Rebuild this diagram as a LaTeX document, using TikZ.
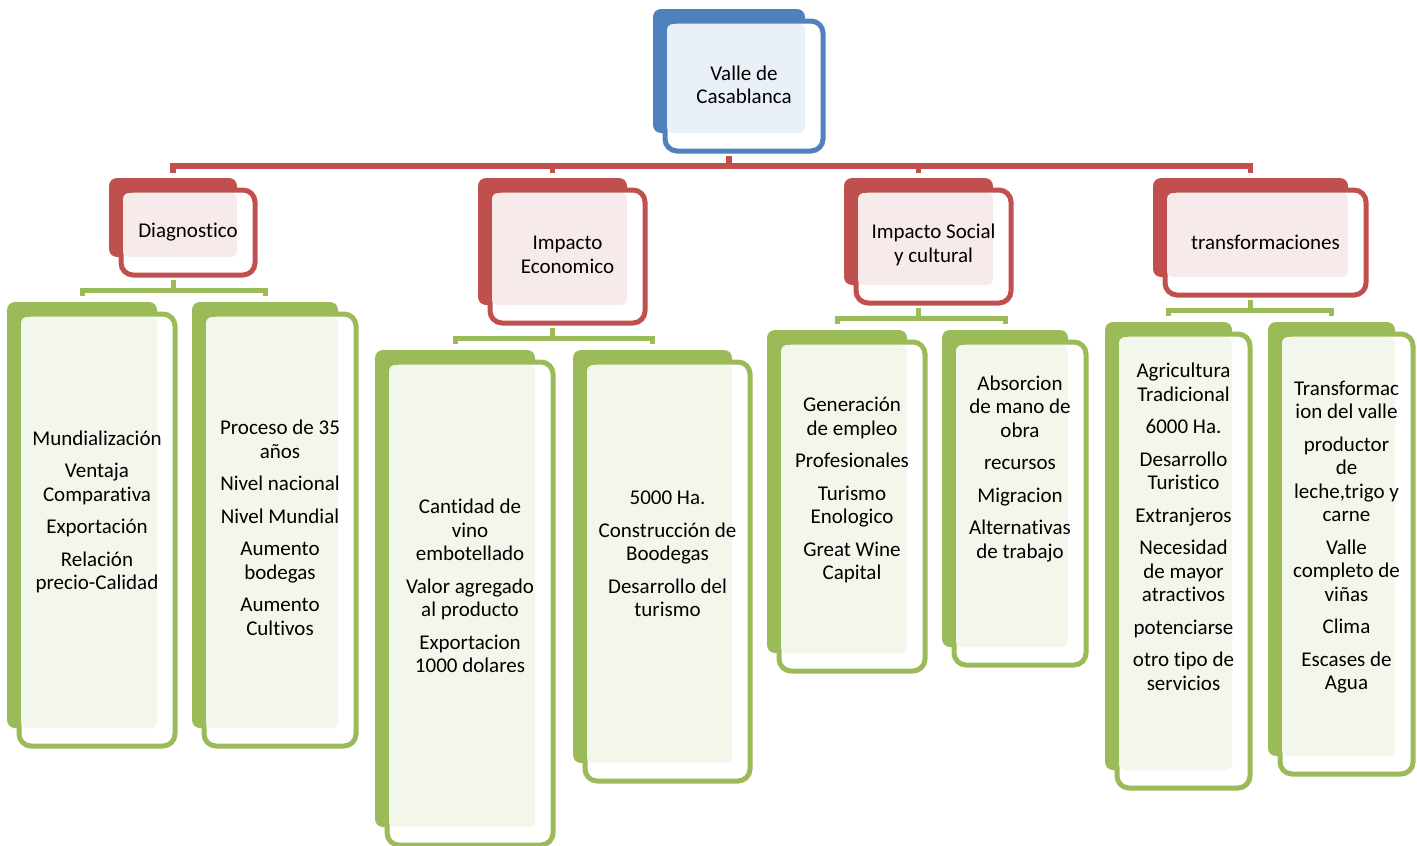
\documentclass[tikz,border=0pt]{standalone}
\usepackage{fontspec}
\setmainfont{Carlito}[Ligatures=NoCommon]
\definecolor{valleblue}{HTML}{4F81BD}
\definecolor{vallered}{HTML}{C0504D}
\definecolor{vallegreen}{HTML}{9BBB59}

% back card, framed front card, pale text area and text
% #1 name, #2-#5 back card corners, #6 colour, #7 text, #8 text height
\newcommand{\cardbox}[8]{%
  \node[backcard, fill=#6, minimum width={(#4-#2)*1pt}, minimum height={(#5-#3)*1pt}]
    (#1-back) at ({(#2+#4)/2},{(#3+#5)/2}) {};
  \node[frontcard, draw=#6, minimum width={(#4-#2+6)*1pt}, minimum height={(#5-#3+6)*1pt}]
    (#1) at ({(#2+#4)/2+15},{(#3+#5)/2+15}) {};
  \fill[#6!12, rounded corners=6pt] (#2+14,#3+15) rectangle (#4,#5);
  \node[cardtext] (#1-text) at ({(#2+#4)/2+15},#8) {#7};
}

\begin{document}
\begin{tikzpicture}[x=1pt, y=-1pt,
    backcard/.style={rectangle, draw=none, rounded corners=8pt, inner sep=0pt},
    frontcard/.style={rectangle, line width=5pt, fill=white, rounded corners=12pt, inner sep=0pt},
    cardtext/.style={align=center, inner sep=0pt, font=\fontsize{21}{23.5}\selectfont},
    redlink/.style={draw=vallered, line width=5.5pt, shorten <=2pt, shorten >=5pt},
    greenlink/.style={draw=vallegreen, line width=5pt, shorten <=2pt, shorten >=6pt}]
  \useasboundingbox (0,0) rectangle (1417,846);

  % Root
  \cardbox{valle}{653}{9}{805}{133}{valleblue}{Valle de\\Casablanca}{85}

  % Topics
  \cardbox{diag}{109}{178}{237}{257}{vallered}{Diagnostico}{232}
  \cardbox{econ}{478}{178}{627}{305}{vallered}{Impacto\\Economico}{255}
  \cardbox{social}{844}{178}{993}{285}{vallered}{Impacto Social\\y cultural}{245}
  \cardbox{transf}{1153}{178}{1348}{277}{vallered}{transformaciones}{242}

  % Details
  \cardbox{mundo}{7}{302}{157}{728}{vallegreen}
    {Mundialización\\[9pt]Ventaja\\Comparativa\\[9pt]Exportación\\[9pt]Relación\\precio-Calidad}{512}
  \cardbox{proceso}{192}{302}{338}{728}{vallegreen}
    {Proceso de 35\\años\\[9pt]Nivel nacional\\[9pt]Nivel Mundial\\[9pt]Aumento\\bodegas\\[9pt]Aumento\\Cultivos}{528}
  \cardbox{vino}{375}{350}{535}{827}{vallegreen}
    {Cantidad de\\vino\\embotellado\\[9pt]Valor agregado\\al producto\\[9pt]Exportacion\\1000 dolares}{586}
  \cardbox{bodega}{573}{350}{732}{763}{vallegreen}
    {5000 Ha.\\[9pt]Construcción de\\Boodegas\\[9pt]Desarrollo del\\turismo}{554}
  \cardbox{empleo}{767}{330}{907}{653}{vallegreen}
    {Generación\\de empleo\\[9pt]Profesionales\\[9pt]Turismo\\Enologico\\[9pt]Great Wine\\Capital}{490}
  \cardbox{obra}{942}{330}{1068}{647}{vallegreen}
    {Absorcion\\de mano de\\obra\\[9pt]recursos\\[9pt]Migracion\\[9pt]Alternativas\\de trabajo}{469}
  \cardbox{agri}{1105}{322}{1232}{770}{vallegreen}
    {Agricultura\\Tradicional\\[9pt]6000 Ha.\\[9pt]Desarrollo\\Turistico\\[9pt]Extranjeros\\[9pt]Necesidad\\de mayor\\atractivos\\[9pt]potenciarse\\[9pt]otro tipo de\\servicios}{527}
  \cardbox{cambio}{1268}{322}{1395}{756}{vallegreen}
    {Transformac\\ion del valle\\[9pt]productor\\de\\leche,trigo y\\carne\\[9pt]Valle\\completo de\\viñas\\[9pt]Clima\\[9pt]Escases de\\Agua}{537}

  % Links
  \draw[redlink] (valle-back |- valle.south) -- ++(0,12.5) -| (diag-back.north);
  \draw[redlink] (valle-back |- valle.south) -- ++(0,12.5) -| (econ-back.north);
  \draw[redlink] (valle-back |- valle.south) -- ++(0,12.5) -| (social-back.north);
  \draw[redlink] (valle-back |- valle.south) -- ++(0,12.5) -| (transf-back.north);

  \draw[greenlink] (diag-back |- diag.south) -- ++(0,12.5) -| (mundo-back.north);
  \draw[greenlink] (diag-back |- diag.south) -- ++(0,12.5) -| (proceso-back.north);
  \draw[greenlink] (econ-back |- econ.south) -- ++(0,12.5) -| (vino-back.north);
  \draw[greenlink] (econ-back |- econ.south) -- ++(0,12.5) -| (bodega-back.north);
  \draw[greenlink] (social-back |- social.south) -- ++(0,12.5) -| (empleo-back.north);
  \draw[greenlink] (social-back |- social.south) -- ++(0,12.5) -| (obra-back.north);
  \draw[greenlink] (transf-back |- transf.south) -- ++(0,12.5) -| (agri-back.north);
  \draw[greenlink] (transf-back |- transf.south) -- ++(0,12.5) -| (cambio-back.north);
\end{tikzpicture}
\end{document}
